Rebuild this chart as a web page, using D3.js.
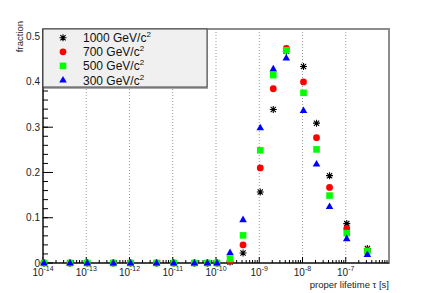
<!DOCTYPE html>
<html>
<head>
<meta charset="utf-8">
<script src="https://cdn.jsdelivr.net/npm/d3@7"></script>
<style>
  body { margin: 0; background: #fff; }
  svg { display: block; font-family: "Liberation Sans", Arial, sans-serif; }
</style>
</head>
<body>
<script>
// proper lifetime points [s]
const lifetimes = [1e-14, 4e-14, 1e-13, 4e-13, 1e-12, 4e-12, 1e-11, 3e-11, 6e-11, 1e-10,
                   2e-10, 4e-10, 1e-9, 2e-9, 4e-9, 1e-8, 2e-8, 4e-8, 1e-7, 3e-7];

// fraction per mass point
const frac1000 = [0, 0, 0, 0, 0, 0, 0, 0, 0, 0, 0.002, 0.022, 0.157, 0.339, 0.468, 0.434, 0.309, 0.193, 0.087, 0.032];
const frac700  = [0, 0, 0, 0, 0, 0, 0, 0, 0, 0, 0.004, 0.040, 0.210, 0.385, 0.474, 0.400, 0.277, 0.167, 0.076, 0.028];
const frac500  = [0, 0, 0, 0, 0, 0, 0, 0, 0, 0, 0.009, 0.061, 0.249, 0.415, 0.470, 0.376, 0.251, 0.149, 0.066, 0.026];
const frac300  = [0, 0, 0, 0, 0, 0, 0, 0, 0, 0, 0.023, 0.096, 0.299, 0.429, 0.453, 0.337, 0.219, 0.125, 0.054, 0.019];

const masses = ['1000', '700', '500', '300'];
const yTicks = [0, 0.1, 0.2, 0.3, 0.4, 0.5];
const xDecades = [-14, -13, -12, -11, -10, -9, -8, -7];

let series = [
  { mass: masses[0], values: frac1000, marker: 'star', color: '#000' },
  { mass: masses[1], values: frac700, marker: 'circle', color: '#ff0000' },
  { mass: masses[2], values: frac500, marker: 'square', color: '#00ff00' },
  { mass: masses[3], values: frac300, marker: 'triangle', color: '#0000ff' }
];

let width = 432;
let height = 293;
let padL = 43, padR = 389, padT = 29, padB = 263;

let svg = d3.select(document.body).append('svg')
  .attr('width', width)
  .attr('height', height);

let x = d3.scaleLog().domain([1e-14, 1e-6]).range([padL, padR]);
let y = d3.scaleLinear().domain([0, 0.517]).range([padB, padT]);

// vertical grid at decades
svg.append('g')
  .selectAll('line')
  .data(xDecades.slice(1))
  .join('line')
    .attr('x1', d => x(Math.pow(10, d)))
    .attr('x2', d => x(Math.pow(10, d)))
    .attr('y1', padT)
    .attr('y2', padB)
    .attr('stroke', '#999')
    .attr('stroke-width', 1)
    .attr('stroke-dasharray', '1,2');

// frame
svg.append('rect')
  .attr('x', padL).attr('y', padT)
  .attr('width', padR - padL).attr('height', padB - padT)
  .attr('fill', 'none')
  .attr('stroke', '#8c8c8c')
  .attr('stroke-width', 2);

// x axis with log ticks
let xAxis = svg.append('g');
xAxis.append('line')
  .attr('x1', padL).attr('x2', padR)
  .attr('y1', padB).attr('y2', padB)
  .attr('stroke', '#000');

let minorX = [];
for (let e = -14; e < -6; e++) {
  for (let m = 2; m <= 9; m++) minorX.push(m * Math.pow(10, e));
}
xAxis.selectAll('line.minor')
  .data(minorX)
  .join('line')
    .attr('class', 'minor')
    .attr('x1', d => x(d)).attr('x2', d => x(d))
    .attr('y1', padB).attr('y2', padB - 3)
    .attr('stroke', '#000');
xAxis.selectAll('line.major')
  .data(xDecades)
  .join('line')
    .attr('class', 'major')
    .attr('x1', d => x(Math.pow(10, d))).attr('x2', d => x(Math.pow(10, d)))
    .attr('y1', padB).attr('y2', padB - 6)
    .attr('stroke', '#000');

let xLabels = xAxis.selectAll('text')
  .data(xDecades)
  .join('text')
    .attr('x', d => x(Math.pow(10, d)))
    .attr('y', 276)
    .attr('text-anchor', 'middle')
    .attr('font-size', 10)
    .attr('fill', '#222');
xLabels.append('tspan').text('10');
xLabels.append('tspan')
  .attr('dy', -5)
  .attr('font-size', 7)
  .text(d => d);

svg.append('text')
  .attr('x', padR)
  .attr('y', 288)
  .attr('text-anchor', 'end')
  .attr('font-size', 9.5)
  .attr('fill', '#222')
  .text('proper lifetime τ [s]');

// y axis
let yAxis = svg.append('g');
yAxis.append('line')
  .attr('x1', padL).attr('x2', padL)
  .attr('y1', padT).attr('y2', padB)
  .attr('stroke', '#333')
  .attr('stroke-width', 1.5);

let minorY = d3.range(0, 0.517, 0.02);
yAxis.selectAll('line.minor')
  .data(minorY)
  .join('line')
    .attr('class', 'minor')
    .attr('x1', padL).attr('x2', padL + 5)
    .attr('y1', d => y(d)).attr('y2', d => y(d))
    .attr('stroke', '#000');
yAxis.selectAll('line.major')
  .data(yTicks)
  .join('line')
    .attr('class', 'major')
    .attr('x1', padL).attr('x2', padL + 10)
    .attr('y1', d => y(d)).attr('y2', d => y(d))
    .attr('stroke', '#000');
yAxis.selectAll('text')
  .data(yTicks)
  .join('text')
    .attr('x', 40)
    .attr('y', d => y(d))
    .attr('dy', '0.35em')
    .attr('text-anchor', 'end')
    .attr('font-size', 10)
    .attr('fill', '#222')
    .text(d => d === 0 ? '0' : d.toFixed(1));

svg.append('text')
  .attr('transform', 'translate(23,21) rotate(-90)')
  .attr('text-anchor', 'end')
  .attr('font-size', 9.5)
  .attr('fill', '#222')
  .text('fraction');

// markers
function drawMarker(g, type, color) {
  if (type === 'star') {
    let r = 3.5;
    g.append('path')
      .attr('d', `M${-r},0H${r}M0,${-r}V${r}M${-r * 0.75},${-r * 0.75}L${r * 0.75},${r * 0.75}M${-r * 0.75},${r * 0.75}L${r * 0.75},${-r * 0.75}`)
      .attr('stroke', color)
      .attr('stroke-width', 1.1)
      .attr('fill', 'none');
  } else if (type === 'circle') {
    g.append('circle').attr('r', 3.4).attr('fill', color);
  } else if (type === 'square') {
    g.append('rect').attr('x', -3.3).attr('y', -3.3).attr('width', 6.6).attr('height', 6.6).attr('fill', color);
  } else {
    g.append('path').attr('d', 'M0,-4L3.8,2.6L-3.8,2.6Z').attr('fill', color);
  }
}

for (let s of series) {
  svg.append('g')
    .selectAll('g')
    .data(s.values.map((v, i) => ({ t: lifetimes[i], v: v })))
    .join('g')
      .attr('transform', d => `translate(${x(d.t) + 1},${y(d.v)})`)
      .each(function () { drawMarker(d3.select(this), s.marker, s.color); });
}

// legend
let legend = svg.append('g');
legend.append('rect')
  .attr('x', 44).attr('y', 30)
  .attr('width', 164).attr('height', 59)
  .attr('fill', '#aaa');
legend.append('rect')
  .attr('x', 43).attr('y', 29)
  .attr('width', 164).attr('height', 58)
  .attr('fill', '#f0f0f0')
  .attr('stroke', '#444')
  .attr('stroke-width', 1);

let rows = legend.selectAll('g.entry')
  .data(series)
  .join('g')
    .attr('class', 'entry')
    .attr('transform', (d, i) => `translate(0,${37.7 + i * 14.1})`);
rows.each(function (d) {
  let g = d3.select(this).append('g').attr('transform', 'translate(63,0)');
  drawMarker(g, d.marker, d.color);
});
let legendText = rows.append('text')
  .attr('x', 83)
  .attr('dy', '0.38em')
  .attr('font-size', 12)
  .attr('fill', '#111');
legendText.append('tspan').text(d => `${d.mass} GeV/c`);
legendText.append('tspan')
  .attr('dy', -5)
  .attr('font-size', 8)
  .text('2');
</script>
</body>
</html>
